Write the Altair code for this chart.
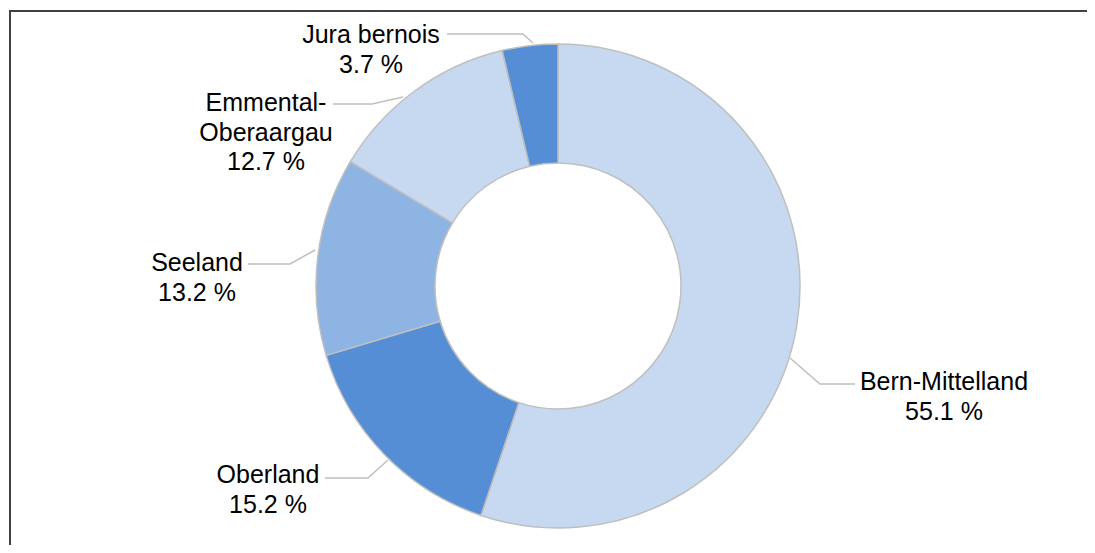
import altair as alt
import pandas as pd

# ---- data ----
categories = ["Bern-Mittelland", "Oberland", "Seeland", "Emmental-Oberaargau", "Jura bernois"]
label_names = ["Bern-Mittelland", "Oberland", "Seeland", "Emmental-\nOberaargau", "Jura bernois"]
values = [55.1, 15.2, 13.2, 12.7, 3.7]
colors = ["#c6d9f0", "#558ed5", "#8eb4e3", "#c6d9f0", "#558ed5"]

# ---- layout (chart pixel coordinates) ----
W, H = 1079, 537
CX, CY = 550, 278
label_pos = [(936, 374), (260, 467), (189, 255), (258, 95), (363, 27)]
leader_pts = [
    [(782, 350), (812, 376), (847, 376)],
    [(380, 452), (360, 470), (317, 470)],
    [(307, 242), (282, 256), (240, 256)],
    [(395, 89), (364, 96), (325, 96)],
    [(525, 35), (515, 26), (439, 26)],
]

pie_df = pd.DataFrame({
    "category": categories,
    "value": values,
    "idx": list(range(len(categories))),
})

lab_df = pd.DataFrame({
    "label": [f"{n}\n{v:.1f} %" for n, v in zip(label_names, values)],
    "lx": [p[0] for p in label_pos],
    "ly": [p[1] for p in label_pos],
})

rows = []
for cat, pts in zip(categories, leader_pts):
    for i, (x, y) in enumerate(pts):
        rows.append({"category": cat, "seq": i, "x": x, "y": y})
lead_df = pd.DataFrame(rows)

arcs = alt.Chart(pie_df).mark_arc(
    innerRadius=123, outerRadius=242, stroke="#bfbfbf", strokeWidth=1.5
).encode(
    theta=alt.Theta("value:Q", stack=True),
    color=alt.Color("category:N", scale=alt.Scale(domain=categories, range=colors), legend=None),
    order=alt.Order("idx:Q"),
    x=alt.value(CX),
    y=alt.value(CY),
)

leaders = alt.Chart(lead_df).mark_line(color="#bfbfbf", strokeWidth=1.5).encode(
    x=alt.X("x:Q", scale=None, axis=None),
    y=alt.Y("y:Q", scale=None, axis=None),
    detail="category:N",
    order="seq:Q",
)

labels = alt.Chart(lab_df).mark_text(
    font="Liberation Sans", fontSize=25, lineBreak="\n", lineHeight=29.5,
    align="center", baseline="middle", color="#000000"
).encode(
    x=alt.X("lx:Q", scale=None, axis=None),
    y=alt.Y("ly:Q", scale=None, axis=None),
    text="label:N",
)

frame_top = alt.Chart(pie_df).mark_rule(color="#404040", strokeWidth=2).encode(
    x=alt.value(1), x2=alt.value(W), y=alt.value(3)
)
frame_left = alt.Chart(pie_df).mark_rule(color="#404040", strokeWidth=2).encode(
    x=alt.value(2), y=alt.value(2), y2=alt.value(H)
)

chart = alt.layer(frame_top, frame_left, arcs, leaders, labels).properties(
    width=W, height=H, padding=0, autosize=alt.AutoSizeParams(type="none")
).configure_view(stroke=None)

chart.save("out.html", embed_options={"renderer": "svg", "actions": False})
